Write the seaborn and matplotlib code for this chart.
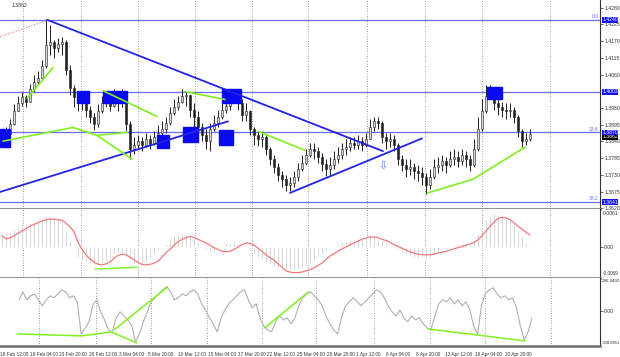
import numpy as np
import matplotlib
matplotlib.use("Agg")
import matplotlib.pyplot as plt
import matplotlib.transforms as mtransforms
from matplotlib.patches import Rectangle
import seaborn as sns

# price candles (each candle ~ 2 x H4 bars), open = previous close
first_open = 1.3841
close = [1.3854,1.3864,1.3896,1.3939,1.3968,1.3985,1.3971,1.4011,1.4037,1.4050,
         1.4089,1.4158,1.4168,1.4148,1.4161,1.4168,1.4076,1.4017,1.3985,1.3965,
         1.3978,1.3945,1.3919,1.3896,1.3939,1.3965,1.3978,1.3958,1.3985,1.3965,
         1.3978,1.3896,1.3815,1.3828,1.3841,1.3828,1.3847,1.3831,1.3854,1.3867,
         1.3880,1.3900,1.3932,1.3952,1.3971,1.3991,1.3994,1.3945,1.3919,1.3886,
         1.3860,1.3841,1.3880,1.3900,1.3919,1.3945,1.3958,1.3978,1.3991,1.3965,
         1.3926,1.3939,1.3880,1.3860,1.3847,1.3854,1.3815,1.3782,1.3756,1.3730,
         1.3716,1.3697,1.3703,1.3723,1.3749,1.3769,1.3795,1.3815,1.3808,1.3788,
         1.3765,1.3749,1.3762,1.3782,1.3795,1.3815,1.3821,1.3834,1.3828,1.3841,
         1.3828,1.3847,1.3886,1.3906,1.3900,1.3854,1.3841,1.3847,1.3828,1.3782,
         1.3762,1.3749,1.3756,1.3743,1.3736,1.3723,1.3697,1.3723,1.3756,1.3762,
         1.3775,1.3762,1.3782,1.3788,1.3775,1.3795,1.3782,1.3762,1.3815,1.3880,
         1.3939,1.3991,1.4004,1.3965,1.3952,1.3945,1.3939,1.3945,1.3919,1.3873,
         1.3841,1.3847,1.3864]
high = [1.3880,1.3886,1.3913,1.3962,1.3991,1.4004,1.3994,1.4030,1.4057,1.4070,
        1.4109,1.4240,1.4223,1.4174,1.4181,1.4184,1.4174,1.4092,1.4027,1.4004,
        1.4001,1.3991,1.3958,1.3932,1.3962,1.3991,1.4004,1.3991,1.4011,1.3998,
        1.4011,1.3994,1.3906,1.3854,1.3860,1.3854,1.3867,1.3860,1.3873,1.3893,
        1.3906,1.3919,1.3952,1.3978,1.3991,1.4011,1.4004,1.3991,1.3965,1.3939,
        1.3900,1.3880,1.3900,1.3926,1.3945,1.3971,1.3985,1.3998,1.4011,1.4004,
        1.3978,1.3965,1.3945,1.3886,1.3873,1.3873,1.3860,1.3821,1.3795,1.3769,
        1.3743,1.3730,1.3723,1.3743,1.3769,1.3795,1.3815,1.3834,1.3834,1.3821,
        1.3801,1.3782,1.3788,1.3808,1.3821,1.3834,1.3847,1.3854,1.3854,1.3860,
        1.3854,1.3867,1.3913,1.3919,1.3919,1.3906,1.3867,1.3867,1.3860,1.3834,
        1.3795,1.3782,1.3782,1.3769,1.3762,1.3756,1.3736,1.3749,1.3782,1.3788,
        1.3795,1.3788,1.3808,1.3815,1.3808,1.3815,1.3808,1.3795,1.3847,1.3919,
        1.3978,1.4024,1.4024,1.4011,1.3978,1.3971,1.3965,1.3965,1.3952,1.3926,
        1.3880,1.3867,1.3880]
low = [1.3828,1.3841,1.3857,1.3893,1.3939,1.3958,1.3952,1.3971,1.4004,1.4024,
       1.4043,1.4083,1.4125,1.4115,1.4135,1.4125,1.4060,1.3994,1.3952,1.3939,
       1.3945,1.3919,1.3900,1.3877,1.3886,1.3932,1.3952,1.3939,1.3952,1.3939,
       1.3952,1.3873,1.3782,1.3798,1.3815,1.3808,1.3821,1.3815,1.3828,1.3841,
       1.3854,1.3867,1.3893,1.3926,1.3945,1.3965,1.3958,1.3919,1.3886,1.3860,
       1.3841,1.3815,1.3808,1.3873,1.3886,1.3913,1.3932,1.3945,1.3965,1.3945,
       1.3906,1.3906,1.3860,1.3828,1.3824,1.3821,1.3795,1.3762,1.3736,1.3710,
       1.3690,1.3677,1.3677,1.3690,1.3710,1.3743,1.3762,1.3788,1.3782,1.3769,
       1.3743,1.3726,1.3730,1.3749,1.3769,1.3782,1.3795,1.3808,1.3815,1.3815,
       1.3808,1.3821,1.3847,1.3873,1.3880,1.3834,1.3815,1.3821,1.3808,1.3762,
       1.3743,1.3723,1.3730,1.3716,1.3710,1.3697,1.3667,1.3684,1.3716,1.3736,
       1.3743,1.3736,1.3756,1.3762,1.3756,1.3762,1.3756,1.3743,1.3756,1.3808,
       1.3873,1.3932,1.3978,1.3945,1.3926,1.3919,1.3913,1.3919,1.3900,1.3854,
       1.3821,1.3828,1.3841]

# MACD histogram and signal
macd_hist = [0.0022,0.0023,0.0025,0.0030,0.0032,0.0035,0.0038,0.0040,0.0042,0.0046,
             0.0049,0.0052,0.0052,0.0050,0.0049,0.0044,0.0026,0.0010,-0.0002,-0.0017,
             -0.0023,-0.0025,-0.0027,-0.0030,-0.0029,-0.0026,-0.0022,-0.0018,-0.0012,-0.0010,
             -0.0013,-0.0017,-0.0024,-0.0029,-0.0030,-0.0028,-0.0025,-0.0019,-0.0013,-0.0007,
             -0.0002,0.0006,0.0013,0.0018,0.0021,0.0023,0.0022,0.0019,0.0015,0.0008,
             0.0001,-0.0005,-0.0008,-0.0006,-0.0002,0.0003,0.0007,0.0008,0.0008,0.0006,
             0.0003,0.0000,-0.0006,-0.0011,-0.0016,-0.0020,-0.0025,-0.0028,-0.0031,-0.0035,
             -0.0037,-0.0039,-0.0040,-0.0039,-0.0037,-0.0034,-0.0031,-0.0028,-0.0022,-0.0016,
             -0.0011,-0.0006,-0.0002,0.0002,0.0006,0.0008,0.0010,0.0012,0.0013,0.0014,
             0.0015,0.0017,0.0019,0.0019,0.0016,0.0012,0.0008,0.0004,0.0000,-0.0005,
             -0.0009,-0.0012,-0.0015,-0.0016,-0.0018,-0.0019,-0.0020,-0.0018,-0.0014,-0.0010,
             -0.0007,-0.0003,0.0000,0.0003,0.0005,0.0007,0.0007,0.0006,0.0012,0.0022,
             0.0033,0.0045,0.0053,0.0057,0.0056,0.0054,0.0050,0.0045,0.0038,0.0028,
             0.0018,0.0008,0.0003]
macd_signal = [0.0019,0.0014,0.0015,0.0019,0.0023,0.0027,0.0031,0.0035,0.0038,0.0041,
               0.0044,0.0046,0.0047,0.0047,0.0046,0.0045,0.0040,0.0034,0.0026,0.0008,
               -0.0004,-0.0013,-0.0020,-0.0025,-0.0029,-0.0030,-0.0028,-0.0025,-0.0019,-0.0014,
               -0.0012,-0.0013,-0.0017,-0.0021,-0.0026,-0.0029,-0.0030,-0.0029,-0.0027,-0.0024,
               -0.0017,-0.0009,-0.0004,0.0003,0.0009,0.0013,0.0016,0.0018,0.0016,0.0013,
               0.0010,0.0007,0.0003,-0.0001,-0.0004,-0.0007,-0.0008,-0.0007,-0.0004,0.0000,
               0.0004,0.0007,0.0006,0.0003,-0.0002,-0.0007,-0.0013,-0.0018,-0.0022,-0.0028,
               -0.0034,-0.0040,-0.0042,-0.0043,-0.0043,-0.0042,-0.0040,-0.0038,-0.0035,-0.0031,
               -0.0027,-0.0021,-0.0015,-0.0011,-0.0007,-0.0003,0.0000,0.0004,0.0007,0.0010,
               0.0013,0.0015,0.0017,0.0017,0.0016,0.0013,0.0011,0.0008,0.0004,0.0001,
               -0.0002,-0.0005,-0.0008,-0.0010,-0.0012,-0.0013,-0.0013,-0.0013,-0.0012,-0.0010,
               -0.0009,-0.0007,-0.0005,-0.0003,-0.0001,0.0001,0.0003,0.0005,0.0008,0.0012,
               0.0019,0.0027,0.0035,0.0042,0.0048,0.0050,0.0049,0.0046,0.0041,0.0035,
               0.0030,0.0025,0.0020]

# CCI
cci = [98,169,98,134,151,98,45,98,134,116,
       151,187,169,116,134,80,-205,-151,-98,53,
       98,-9,-80,-169,-187,-62,-9,-45,-80,-134,
       -276,-205,-98,-9,80,116,151,187,214,169,
       98,116,151,134,169,187,151,62,9,-62,
       -116,-187,-62,9,62,98,134,169,187,98,
       27,62,-62,-134,-169,-187,-98,-45,-80,-62,
       -116,-62,45,116,151,169,134,98,45,-45,
       -116,-169,-205,-62,45,80,116,80,45,80,
       116,151,187,169,116,45,-9,-45,9,-62,
       -98,-45,-80,-62,-116,-151,-169,-45,62,98,
       80,116,62,98,45,80,9,-134,-205,45,
       151,187,205,151,116,134,98,116,27,-134,
       -258,-187,-62]

x_labels = ["16 Feb 12:00", "19 Feb 04:00", "23 Feb 20:00", "26 Feb 12:00", "3 Mar 04:00",
            "5 Mar 20:00", "10 Mar 12:00", "15 Mar 04:00", "17 Mar 20:00", "22 Mar 12:00",
            "25 Mar 04:00", "29 Mar 20:00", "1 Apr 12:00", "6 Apr 04:00", "8 Apr 20:00",
            "13 Apr 12:00", "16 Apr 04:00", "20 Apr 20:00"]
price_ticks = [1.4280, 1.4225, 1.4170, 1.4115, 1.4060, 1.3950, 1.3895, 1.3840,
               1.3785, 1.3730, 1.3675, 1.3620]

# horizontal levels (fibo)
levels = [1.4240, 1.4003, 1.3870, 1.3641]
level_names = ["0.0", "", "23.6", "38.2"]
current_price = 1.3862

# trend lines (bar index, price)
trend_x = [[11.25, 95.25], [-0.5, 56.5], [72, 105]]
trend_y = [[1.4240, 1.3808], [1.3674, 1.3906], [1.3671, 1.3850]]
green_x = [[6.25, 12.75], [0.25, 17.75, 23.75, 31.25], [23.75, 32.5], [25.25, 38.75],
           [45.75, 55.75], [64, 75.75], [106.5, 117.75, 130.75]]
green_y = [[1.3981, 1.4083], [1.3841, 1.3886, 1.3860, 1.3870], [1.3860, 1.3782],
           [1.4007, 1.3922], [1.4004, 1.3978], [1.3873, 1.3811], [1.3671, 1.3716, 1.3821]]
red_x = [-0.5, 10.75]
red_y = [1.4184, 1.4236]
macd_green_x = [23.25, 33.75]
macd_green_y = [-0.0037, -0.0034]
cci_green_x = [[-0.5, 16.25, 23.75, 30.25], [24.5, 38.25], [63.25, 74.5], [105.25, 130.25]]
cci_green_y = [[-205, -222, -187, -285], [-169, 214], [-151, 169], [-160, -267]]

# blue boxes
box_x0 = [-0.5, 18.75, 25.25, 38.75, 45.25, 55.0, 54.25, 121.25]
box_x1 = [2.0, 21.75, 31.25, 41.75, 49.0, 59.75, 57.75, 125.0]
box_y0 = [1.3821, 1.3968, 1.3965, 1.3818, 1.3837, 1.3965, 1.3828, 1.3978]
box_y1 = [1.3880, 1.4007, 1.4007, 1.3860, 1.3886, 1.4011, 1.3877, 1.4020]
arrow_x, arrow_y = 95.25, 1.3759

grid_x = [5.25, 19.75, 34, 48.25, 62.5, 76.5, 91.25, 105.75, 120, 137]

sns.set_style("white")
plt.rcParams['font.family'] = ['Liberation Sans', 'DejaVu Sans']
FS = 3.7

close = np.array(close); high = np.array(high); low = np.array(low)
idx = np.arange(len(close))
opn = np.r_[first_open, close[:-1]]
hi = np.maximum(high, np.maximum(opn, close))
lo = np.minimum(low, np.minimum(opn, close))

fig = plt.figure(figsize=(6.2, 3.57), dpi=100)
W = 600 / 620
ax_p = fig.add_axes([0, 148 / 357, W, 209 / 357])
ax_m = fig.add_axes([0, 79 / 357, W, 69 / 357])
ax_c = fig.add_axes([0, 11 / 357, W, 68 / 357])

for ax in (ax_p, ax_m, ax_c):
    ax.set_xlim(-0.5, 149.5)
    ax.set_facecolor("white")
    for gx in grid_x:
        ax.axvline(gx, color="#7a7a7a", lw=0.6, ls=(0, (1, 2)), zorder=0)
    ax.spines["left"].set_visible(False)
    ax.spines["top"].set_visible(False)
    ax.spines["right"].set_color("#333333")
    ax.spines["right"].set_linewidth(0.8)
    ax.spines["bottom"].set_color("#6e6e6e")
    ax.spines["bottom"].set_linewidth(1.8)
    ax.yaxis.tick_right()
    ax.tick_params(axis="y", labelsize=FS, length=2, width=0.5, pad=1.0, colors="#333333")

# ---- price panel
ax_p.set_ylim(1.3618, 1.4305)
ax_p.vlines(idx, lo, hi, color="#1e1e1e", lw=0.7, zorder=3)
up = close >= opn
ax_p.bar(idx[up], (close - opn)[up], bottom=opn[up], width=0.65, color="#d8d8d8",
         edgecolor="#1e1e1e", lw=0.4, zorder=4)
ax_p.bar(idx[~up], (opn - close)[~up], bottom=close[~up], width=0.65, color="#1e1e1e",
         edgecolor="#1e1e1e", lw=0.4, zorder=4)

for lv, nm in zip(levels, level_names):
    ax_p.axhline(lv, color="#6b6bff", lw=0.9, zorder=2)
    if nm:
        ax_p.text(149.2, lv + 0.0002, nm, color="#6b6bff", fontsize=3.6, ha="right", va="bottom")

for x0, x1, y0, y1 in zip(box_x0, box_x1, box_y0, box_y1):
    ax_p.add_patch(Rectangle((x0, y0), x1 - x0, y1 - y0, color="#0a0af0", zorder=6))

for tx, ty in zip(trend_x, trend_y):
    ax_p.plot(tx, ty, color="#2323e6", lw=1.3, zorder=7)
for gx, gy in zip(green_x, green_y):
    ax_p.plot(gx, gy, color="#80f020", lw=1.2, zorder=7)
ax_p.plot(red_x, red_y, color="#e07070", lw=0.8, ls=(0, (1, 1.5)), zorder=7)
ax_p.text(arrow_x, arrow_y, "\u21e9", color="#5b7cff", fontsize=8, ha="center", va="center",
          zorder=8, family="DejaVu Sans")
ax_p.text(0.02, 0.985, "1.3862", transform=ax_p.transAxes, fontsize=FS, color="#333333",
          ha="left", va="top")

ax_p.set_yticks(price_ticks)
ax_p.set_yticklabels([f"{t:.4f}" for t in price_ticks])
ax_p.set_xticks([])
tr = mtransforms.blended_transform_factory(ax_p.transAxes, ax_p.transData)
ax_p.text(1.004, current_price - 0.0007, f"{current_price:.4f}", transform=tr, fontsize=FS,
          color="white", ha="left", va="center",
          bbox=dict(boxstyle="square,pad=0.06", fc="#000000", ec="none"))
for lv in levels:
    ax_p.text(1.004, lv, f"{lv:.4f}", transform=tr, fontsize=FS, color="white", ha="left",
              va="center", bbox=dict(boxstyle="square,pad=0.06", fc="#1010ff", ec="none"))

# ---- MACD panel
ax_m.set_ylim(-0.0052, 0.0064)
ax_m.bar(idx, macd_hist, width=0.5, color="#bcbcbc", zorder=2)
sns.lineplot(x=idx, y=macd_signal, ax=ax_m, color="#f07a7a", lw=0.9, zorder=3)
ax_m.plot(macd_green_x, macd_green_y, color="#80f020", lw=1.0, zorder=4)
ax_m.set_yticks([0])
ax_m.set_yticklabels(["0.00"])
ax_m.text(1.004, 0.94, "0.0061", transform=ax_m.transAxes, fontsize=FS, color="#333333", va="center")
ax_m.text(1.004, 0.07, "-0.0069", transform=ax_m.transAxes, fontsize=3.4, color="#333333", va="center")
ax_m.set_xticks([])
ax_m.set_ylabel("")

# ---- CCI panel
ax_c.set_ylim(-312, 292)
sns.lineplot(x=idx, y=cci, ax=ax_c, color="#b0b0b0", lw=0.8, zorder=2)
for gx, gy in zip(cci_green_x, cci_green_y):
    ax_c.plot(gx, gy, color="#80f020", lw=1.1, zorder=3)
ax_c.set_yticks([0])
ax_c.set_yticklabels(["0.00"])
ax_c.text(1.003, 0.956, "286.9402", transform=ax_c.transAxes, fontsize=3.2, color="#333333", va="center")
ax_c.text(1.003, 0.044, "-308.8851", transform=ax_c.transAxes, fontsize=3.0, color="#333333", va="center")
ax_c.set_ylabel("")

tick_pos = (13 - 2) / 4 + 30.56 / 4 * np.arange(-1, len(x_labels) - 1)
ax_c.set_xticks(tick_pos)
ax_c.set_xticklabels(x_labels, fontsize=3.4, color="#333333", ha="left")
ax_c.tick_params(axis="x", length=2.5, width=0.5, pad=1.5, colors="#333333")

fig.savefig("out.png", dpi=100)
